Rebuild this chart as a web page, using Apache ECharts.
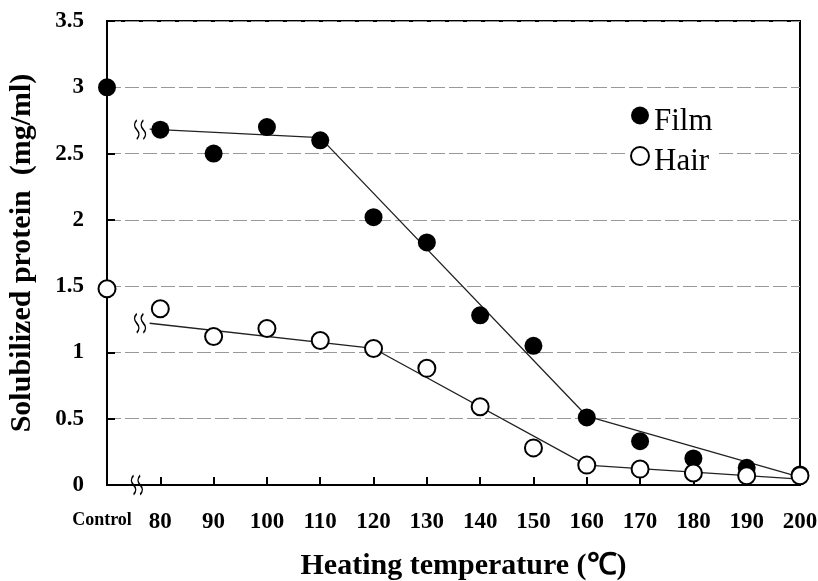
<!DOCTYPE html>
<html>
  <head>
    <meta charset="utf-8">
    <title></title>
    <style media="screen">
    html,body {margin:0;padding:0;background:#fff;}
    #chart {width:818px; height:581px;}
    </style>
    <script src="https://cdn.jsdelivr.net/npm/echarts@6/dist/echarts.min.js" charset="utf-8"></script>
    <script>
    // temperatures; 70 stands for the Control position
    const temps=[70, 80, 90, 100, 110, 120, 130, 140, 150, 160, 170, 180, 190, 200];
    const film=[3.0, 2.68, 2.50, 2.70, 2.60, 2.02, 1.83, 1.28, 1.05, 0.51, 0.33, 0.20, 0.13, 0.08];
    const hair=[1.48, 1.33, 1.12, 1.18, 1.09, 1.03, 0.88, 0.59, 0.28, 0.15, 0.12, 0.09, 0.07, 0.07];
    // fitted trend lines
    const filmFit=[[78, 2.685], [110, 2.62], [160, 0.52], [200, 0.06]];
    const hairFit=[[78, 1.22], [120, 1.03], [160, 0.15], [200, 0.045]];
    // axis break marks
    const breaks=[[76.2, 2.68], [76.2, 1.22], [75.6, 0]];

    const serif='"Liberation Serif", "Times New Roman", serif';
    // two wavy strokes, like a rotated ≈
    const breakPath='path://M3,0 Q-1,5 3,10 Q7,15 3,20 M9,0 Q5,5 9,10 Q13,15 9,20';

    window.onload=function (){
      let charts=echarts.init(document.getElementById('chart'));

      let option={
        animation: false,
        grid: {left: 107, right: 18, top: 21, bottom: 96, outerBoundsMode: 'none', containLabel: false,
          show: true, borderColor: '#000', borderWidth: 2},
        legend: {
          data: ['Film', 'Hair'],
          orient: 'vertical',
          left: 626, top: 102,
          itemWidth: 18, itemHeight: 18, itemGap: 9,
          icon: 'circle',
          backgroundColor: '#fff',
          padding: [4, 4],
          formatter: name=>'{t|'+name+'}',
          textStyle: {
            fontFamily: serif, fontSize: 31, color: '#000',
            rich: {t: {fontFamily: serif, fontSize: 31, color: '#000', padding: [12, 0, 0, 0]}}
          }
        },
        xAxis: {
          type: 'value', min: 70, max: 200, interval: 10,
          name: 'Heating temperature (\u2103)',
          nameLocation: 'middle', nameGap: 66,
          nameTextStyle: {fontFamily: serif, fontWeight: 'bold', fontSize: 30, color: '#000', padding: [0, 0, 0, 20]},
          axisLine: {lineStyle: {color: '#000', width: 2}},
          axisTick: {inside: true, length: 8, lineStyle: {color: '#000', width: 2}},
          splitLine: {show: false},
          axisLabel: {
            margin: 26, color: '#000', fontFamily: serif, fontWeight: 'bold', fontSize: 23,
            formatter: v=>v==70 ? '{c|Control}' : String(v),
            rich: {c: {fontFamily: serif, fontWeight: 'bold', fontSize: 18, color: '#000', padding: [0, 0, 0, -10]}}
          }
        },
        yAxis: {
          type: 'value', min: 0, max: 3.5, interval: 0.5,
          name: 'Solubilized protein  (mg/ml)',
          nameLocation: 'middle', nameGap: 70,
          nameTextStyle: {fontFamily: serif, fontWeight: 'bold', fontSize: 30, color: '#000'},
          axisLine: {lineStyle: {color: '#000', width: 2}},
          axisTick: {inside: true, length: 8, lineStyle: {color: '#000', width: 2}},
          splitLine: {lineStyle: {color: '#999', type: [14, 4], width: 1}},
          axisLabel: {margin: 23, color: '#000', fontFamily: serif, fontWeight: 'bold', fontSize: 23}
        },
        series: [
          {
            name: 'filmFit', type: 'line', data: filmFit, symbol: 'none', z: 2,
            lineStyle: {color: '#222', width: 1.3}
          },
          {
            name: 'hairFit', type: 'line', data: hairFit, symbol: 'none', z: 2,
            lineStyle: {color: '#222', width: 1.3}
          },
          {
            name: 'Film', type: 'scatter', symbol: 'circle', symbolSize: 18, z: 4,
            data: temps.map((t, i)=>[t, film[i]]),
            itemStyle: {color: '#000', opacity: 1}
          },
          {
            name: 'Hair', type: 'scatter', symbol: 'circle', symbolSize: 17, z: 5,
            data: temps.map((t, i)=>[t, hair[i]]),
            itemStyle: {color: '#fff', borderColor: '#000', borderWidth: 2, opacity: 1}
          },
          {
            name: 'breaks', type: 'scatter', symbol: breakPath, symbolSize: [11, 19], z: 6,
            data: breaks,
            itemStyle: {color: 'none', borderColor: '#000', borderWidth: 1.6, opacity: 1}
          }
        ]
      };

      charts.setOption(option);
    };
    </script>
  </head>
  <body>
    <div id="chart"></div>
  </body>
</html>
